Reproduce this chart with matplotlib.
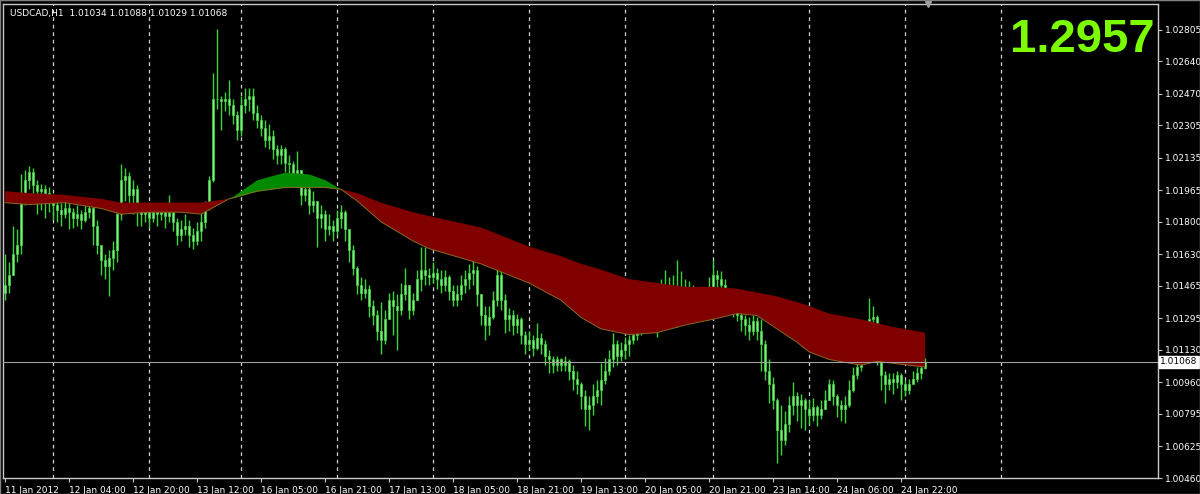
import numpy as np
import matplotlib
matplotlib.use("Agg")
import matplotlib.pyplot as plt
from matplotlib.patches import Rectangle

# USDCAD H1 candles, prices x 10000, one value per hourly bar
first_open = 10143
closes = [
    10147, 10152, 10163, 10168, 10191, 10202, 10206, 10199, 10196, 10197,
    10195, 10194, 10189, 10186, 10184, 10187, 10185, 10182, 10184, 10181,
    10185, 10187, 10178, 10168, 10160, 10157, 10161, 10165, 10184, 10202,
    10204, 10194, 10197, 10189, 10184, 10185, 10182, 10185, 10184, 10185,
    10183, 10185, 10180, 10173, 10176, 10178, 10173, 10170, 10175, 10180,
    10189, 10202, 10244, 10244, 10243, 10244, 10241, 10236, 10228, 10241,
    10244, 10246, 10237, 10233, 10229, 10223, 10225, 10218, 10215, 10218,
    10211, 10210, 10204, 10207, 10194, 10197, 10189, 10191, 10182, 10184,
    10176, 10178, 10175, 10182, 10185, 10176, 10165, 10156, 10147, 10143,
    10145, 10136, 10131, 10123, 10118, 10129, 10139, 10136, 10134, 10142,
    10147, 10134, 10139, 10150, 10155, 10152, 10151, 10153, 10150, 10147,
    10151, 10144, 10139, 10142, 10147, 10150, 10153, 10155, 10142, 10131,
    10126, 10130, 10139, 10152, 10139, 10129, 10131, 10126, 10129, 10121,
    10116, 10118, 10114, 10119, 10116, 10110, 10108, 10105, 10108, 10105,
    10107, 10102, 10098, 10095, 10089, 10082, 10084, 10089, 10092, 10097,
    10102, 10108, 10116, 10110, 10113, 10116, 10118, 10121, 10123, 10126,
    10129, 10130, 10131, 10133, 10139, 10142, 10144, 10142, 10144, 10142,
    10143, 10145, 10143, 10139, 10136, 10139, 10144, 10152, 10150, 10147,
    10144, 10139, 10135, 10131, 10129, 10126, 10123, 10128, 10123, 10116,
    10102, 10095, 10087, 10071, 10066, 10074, 10084, 10089, 10084, 10087,
    10082, 10079, 10083, 10079, 10082, 10087, 10095, 10089, 10084, 10082,
    10084, 10092, 10100, 10104, 10108, 10118, 10129, 10130, 10113, 10100,
    10095, 10098, 10096, 10100, 10095, 10092, 10095, 10098, 10101, 10103.4,
    10106.8,
]
highs = [
    10163, 10159, 10178, 10176, 10205, 10207, 10209, 10208, 10202, 10200,
    10199, 10198, 10194, 10191, 10190, 10191, 10190, 10187, 10189, 10186,
    10189, 10191, 10189, 10181, 10168, 10163, 10165, 10170, 10186, 10210,
    10208, 10206, 10202, 10199, 10189, 10189, 10187, 10189, 10187, 10189,
    10187, 10194, 10186, 10182, 10181, 10184, 10181, 10177, 10180, 10189,
    10191, 10204, 10258, 10281, 10246, 10248, 10254, 10244, 10238, 10246,
    10250, 10250, 10250, 10241, 10236, 10233, 10231, 10228, 10220, 10220,
    10219, 10215, 10212, 10217, 10207, 10201, 10198, 10196, 10191, 10189,
    10186, 10184, 10181, 10186, 10189, 10186, 10173, 10168, 10157, 10151,
    10150, 10147, 10139, 10134, 10138, 10134, 10143, 10144, 10142, 10148,
    10156, 10147, 10143, 10155, 10167, 10167, 10156, 10159, 10156, 10155,
    10155, 10152, 10147, 10147, 10152, 10155, 10158, 10160, 10157, 10142,
    10136, 10136, 10144, 10156, 10155, 10142, 10135, 10134, 10132, 10130,
    10123, 10123, 10121, 10127, 10122, 10118, 10113, 10110, 10110, 10109,
    10110, 10108, 10105, 10102, 10096, 10092, 10089, 10095, 10097, 10106,
    10109, 10113, 10122, 10118, 10117, 10120, 10121, 10124, 10128, 10131,
    10134, 10136, 10139, 10142, 10150, 10155, 10151, 10152, 10160, 10154,
    10150, 10149, 10147, 10145, 10143, 10144, 10151, 10160, 10155, 10154,
    10150, 10145, 10140, 10136, 10133, 10131, 10130, 10131, 10130, 10129,
    10118, 10108, 10099, 10088, 10084, 10081, 10089, 10096, 10091, 10090,
    10088, 10087, 10088, 10084, 10087, 10092, 10098, 10097, 10090, 10087,
    10089, 10097, 10104, 10107, 10112, 10126, 10140, 10136, 10131, 10113,
    10102, 10101, 10101, 10102, 10101, 10097, 10098, 10102, 10104, 10105,
    10108.8,
]
lows = [
    10139, 10143, 10152, 10159, 10163, 10189, 10197, 10191, 10184, 10186,
    10182, 10185, 10181, 10180, 10178, 10182, 10176, 10177, 10178, 10176,
    10180, 10182, 10168, 10163, 10152, 10150, 10141, 10155, 10159, 10181,
    10191, 10189, 10184, 10178, 10178, 10180, 10177, 10180, 10178, 10181,
    10177, 10180, 10175, 10168, 10170, 10173, 10167, 10166, 10168, 10170,
    10177, 10186, 10201, 10239, 10228, 10238, 10236, 10231, 10223, 10225,
    10237, 10238, 10233, 10229, 10225, 10219, 10218, 10213, 10210, 10210,
    10206, 10204, 10199, 10201, 10189, 10191, 10184, 10185, 10167, 10177,
    10170, 10173, 10170, 10173, 10177, 10170, 10159, 10152, 10142, 10139,
    10140, 10130, 10126, 10118, 10111, 10116, 10129, 10121, 10113, 10131,
    10139, 10129, 10131, 10139, 10144, 10147, 10147, 10148, 10145, 10143,
    10144, 10139, 10136, 10136, 10139, 10143, 10145, 10147, 10136, 10126,
    10118, 10121, 10129, 10136, 10134, 10122, 10123, 10121, 10122, 10116,
    10111, 10113, 10110, 10113, 10111, 10105, 10101, 10101, 10102, 10102,
    10102, 10097, 10092, 10090, 10082, 10073, 10071, 10079, 10085, 10084,
    10095, 10100, 10104, 10105, 10107, 10108, 10110, 10116, 10118, 10121,
    10123, 10124, 10126, 10120, 10131, 10134, 10136, 10134, 10125, 10134,
    10136, 10139, 10136, 10133, 10131, 10134, 10136, 10139, 10144, 10143,
    10139, 10134, 10130, 10128, 10123, 10121, 10118, 10121, 10118, 10102,
    10097, 10085, 10082, 10054, 10058, 10063, 10070, 10079, 10076, 10072,
    10071, 10074, 10076, 10073, 10077, 10083, 10087, 10084, 10078, 10076,
    10075, 10083, 10091, 10098, 10102, 10107, 10116, 10123, 10105, 10092,
    10085, 10092, 10090, 10093, 10087, 10089, 10090, 10095, 10096, 10098,
    10102.9,
]

# two moving averages (bar index, price x 10000)
ma_bar = [0, 6, 15, 24, 29, 36, 44, 49, 56, 63, 70, 76, 80, 84, 88, 94, 102,
          106, 119, 131, 139, 144, 149, 156, 163, 170, 177, 183, 188, 193, 198,
          201, 206, 214, 218, 222, 230]
ma_slow = [10196, 10195, 10194, 10192, 10190, 10190, 10190, 10190, 10192, 10196,
           10198, 10198, 10198, 10197, 10195, 10190, 10185, 10183, 10177, 10167,
           10162, 10158, 10155, 10150, 10148, 10146, 10146, 10145, 10143, 10141,
           10138, 10136, 10132, 10129, 10127, 10125, 10122]
ma_fast = [10190, 10189, 10190, 10187, 10184, 10185, 10185, 10184, 10192, 10202,
           10206, 10205, 10202, 10197, 10191, 10180, 10170, 10166, 10158, 10148,
           10139, 10130, 10124, 10121, 10122, 10126, 10129, 10132, 10131, 10124,
           10117, 10112, 10108, 10105, 10107, 10106, 10104]

time_ticks = [0, 16, 32, 48, 64, 80, 96, 112, 128, 144, 160, 176, 192, 208, 224]
time_labels = ['11 Jan 2012', '12 Jan 04:00', '12 Jan 20:00', '13 Jan 12:00',
               '16 Jan 05:00', '16 Jan 21:00', '17 Jan 13:00', '18 Jan 05:00',
               '18 Jan 21:00', '19 Jan 13:00', '20 Jan 05:00', '20 Jan 21:00',
               '23 Jan 14:00', '24 Jan 06:00', '24 Jan 22:00']
day_lines = [12, 36, 59, 83, 107, 131, 155, 177, 201, 225, 249]
price_ticks = [1.02805, 1.02640, 1.02470, 1.02305, 1.02135, 1.01965, 1.01800,
               1.01630, 1.01465, 1.01295, 1.01130, 1.00960, 1.00795, 1.00625,
               1.00460]
bid = 1.01068
big_text = '1.2957'

c = np.array(closes) / 10000
h = np.array(highs) / 10000
l = np.array(lows) / 10000
o = np.concatenate([[first_open / 10000], c[:-1]])
h = np.maximum(h, np.maximum(o, c))
l = np.minimum(l, np.minimum(o, c))
x = np.arange(len(c))

fig = plt.figure(figsize=(12, 4.94), dpi=100, facecolor='black')
ax = fig.add_axes([3/1200, 16/494, 1155/1200, 474/494])
ax.set_facecolor('black')
ax.set_xlim(-0.5, 288.25)
ax.set_ylim(1.00460, 1.02939)

for d in day_lines:
    ax.axvline(d, color='#d0d0d0', lw=0.9, ls=(0, (3, 3)), zorder=0.5)

# candles
ax.vlines(x, l, h, color='#3cd23c', lw=1, zorder=2)
body_lo = np.minimum(o, c)
body_h = np.maximum(np.abs(c - o), 0.000008)
ax.bar(x, body_h, bottom=body_lo, width=0.6, color='#84ea84',
       edgecolor='#3cd23c', linewidth=0.5, zorder=2.1)

# MA band
mb = np.array(ma_bar)
ms = np.array(ma_slow) / 10000
mf = np.array(ma_fast) / 10000
ax.fill_between(mb, ms, mf, where=ms >= mf, interpolate=True,
                color='#800000', lw=0, zorder=3)
ax.fill_between(mb, ms, mf, where=mf >= ms, interpolate=True,
                color='#008a00', lw=0, zorder=3)
ax.plot(mb, np.minimum(ms, mf), color='#8a6a20', lw=0.7, zorder=3.1)

ax.axhline(bid, color='#a0a0a0', lw=0.8, zorder=4)

for s in ax.spines.values():
    s.set_color('#c8c8c8')
    s.set_linewidth(1)

ax.yaxis.tick_right()
ax.set_yticks(price_ticks)
ax.set_yticklabels(['%.5f' % p for p in price_ticks])
ax.tick_params(axis='y', colors='#c8c8c8', labelcolor='white', labelsize=6.5,
               length=3, pad=2)
ax.set_xticks(time_ticks)
ax.set_xticklabels(time_labels, ha='left')
ax.tick_params(axis='x', colors='#c8c8c8', labelcolor='white', labelsize=6.5,
               length=3, pad=3)

ax.text(1.002, bid, '%.5f' % bid, transform=ax.get_yaxis_transform(),
        ha='left', va='center', fontsize=6.5, color='black',
        bbox=dict(boxstyle='square,pad=0.15', fc='white', ec='white'))

ax.text(0.006, 0.981, 'USDCAD,H1  1.01034 1.01088 1.01029 1.01068',
        transform=ax.transAxes, ha='left', va='center', fontsize=6.5,
        color='white')
ax.text(0.997, 0.925, big_text, transform=ax.transAxes, ha='right',
        va='center', fontsize=34, fontweight='bold', color='#7cfc00',
        family='Liberation Sans')
ax.plot([230.75], [1.02939], marker='v', color='#a0a0a0', markersize=5,
        clip_on=False, zorder=5)

fig.patches.append(Rectangle((0, 0), 1, 1, transform=fig.transFigure,
                             fill=False, ec='#808080', lw=1))

fig.savefig('out.png', dpi=100, facecolor='black')
